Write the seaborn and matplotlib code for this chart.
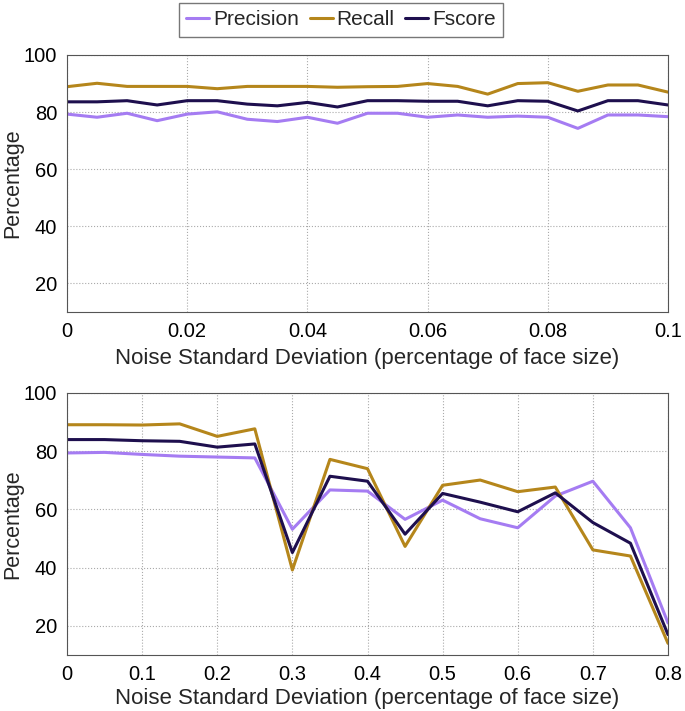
import numpy as np
import pandas as pd
import seaborn as sns
import matplotlib.pyplot as plt

# noise levels
noise_top = [0, 0.005, 0.01, 0.015, 0.02, 0.025, 0.03, 0.035, 0.04, 0.045, 0.05,
             0.055, 0.06, 0.065, 0.07, 0.075, 0.08, 0.085, 0.09, 0.095, 0.1]
noise_bottom = [0, 0.05, 0.1, 0.15, 0.2, 0.25, 0.3, 0.35, 0.4, 0.45, 0.5,
                0.55, 0.6, 0.65, 0.7, 0.75, 0.8]

# top panel values
precision_top = [79.3, 78.2, 79.6, 77.0, 79.3, 80.1, 77.5, 76.7, 78.2, 76.1, 79.6,
                 79.6, 78.2, 79.0, 78.2, 78.6, 78.2, 74.3, 79.0, 79.0, 78.4]
recall_top = [88.9, 90.1, 89.0, 89.0, 89.0, 88.2, 89.0, 89.0, 89.0, 88.7, 88.9,
              89.0, 90.0, 89.0, 86.3, 90.0, 90.3, 87.3, 89.5, 89.5, 87.0]
fscore_top = [83.6, 83.6, 84.0, 82.5, 84.0, 84.0, 82.8, 82.2, 83.4, 81.8, 84.0,
              84.0, 83.8, 83.8, 82.2, 84.0, 83.8, 80.4, 84.0, 84.0, 82.5]

# bottom panel values
precision_bottom = [79.4, 79.6, 78.9, 78.3, 78.0, 77.7, 53.2, 66.7, 66.3, 56.6, 63.2,
                    56.8, 53.7, 64.6, 69.7, 53.7, 21.0]
recall_bottom = [89.1, 89.1, 89.0, 89.4, 85.1, 87.7, 39.2, 77.2, 74.0, 47.3, 68.3,
                 70.1, 66.1, 67.7, 46.1, 44.0, 14.0]
fscore_bottom = [84.0, 84.0, 83.6, 83.4, 81.4, 82.5, 45.2, 71.4, 69.7, 51.5, 65.5,
                 62.5, 59.2, 65.7, 55.5, 48.4, 17.0]

metrics = ["Precision", "Recall", "Fscore"]
colors = {"Precision": "#a57cf2", "Recall": "#b5861b", "Fscore": "#1e0f4e"}


def make_df(noise, p, r, f):
    rows = []
    for name, vals in zip(metrics, [p, r, f]):
        for x, v in zip(noise, vals):
            rows.append({"noise": x, "value": v, "metric": name})
    return pd.DataFrame(rows)


df_top = make_df(noise_top, precision_top, recall_top, fscore_top)
df_bottom = make_df(noise_bottom, precision_bottom, recall_bottom, fscore_bottom)

sns.set_style("whitegrid")
plt.rcParams["font.family"] = ["Liberation Sans", "DejaVu Sans"]

fig = plt.figure(figsize=(6.85, 7.11), dpi=100)
ax1 = fig.add_axes([67 / 685, 1 - 312 / 711, 601 / 685, 257 / 711])
ax2 = fig.add_axes([67 / 685, 1 - 655 / 711, 601 / 685, 262 / 711])

for ax, df, xmax, xticks, lp in [(ax1, df_top, 0.1, np.arange(0, 0.101, 0.02), 5),
                                 (ax2, df_bottom, 0.8, np.arange(0, 0.801, 0.1), 3)]:
    sns.lineplot(data=df, x="noise", y="value", hue="metric", hue_order=metrics,
                 palette=colors, linewidth=2.2, ax=ax, legend=False)
    ax.set_xlim(0, xmax)
    ax.set_ylim(10, 100)
    ax.set_xticks(xticks)
    ax.set_xticklabels([f"{t:g}" for t in xticks])
    ax.set_yticks([20, 40, 60, 80, 100])
    ax.grid(True, linestyle=":", color="#aaaaaa", linewidth=0.8)
    for s in ax.spines.values():
        s.set_color("#555555")
        s.set_linewidth(0.8)
    ax.tick_params(labelsize=14.5, colors="black", length=4, direction="in", pad=7)
    ax.set_xlabel("Noise Standard Deviation (percentage of face size)", fontsize=16, labelpad=lp)
    ax.set_ylabel("Percentage", fontsize=15.5)
    ax.yaxis.set_label_coords(-0.073, 0.5)

handles = [plt.Line2D([], [], color=colors[m], linewidth=2.2) for m in metrics]
fig.legend(handles, metrics, loc="upper center", bbox_to_anchor=(341 / 685, 1.0),
           ncol=3, fontsize=15, handlelength=1.1, handletextpad=0.2, columnspacing=0.5,
           frameon=True, fancybox=False, edgecolor="#555555", borderpad=0.35,
           borderaxespad=0.15)

fig.savefig("out.png", dpi=100)
